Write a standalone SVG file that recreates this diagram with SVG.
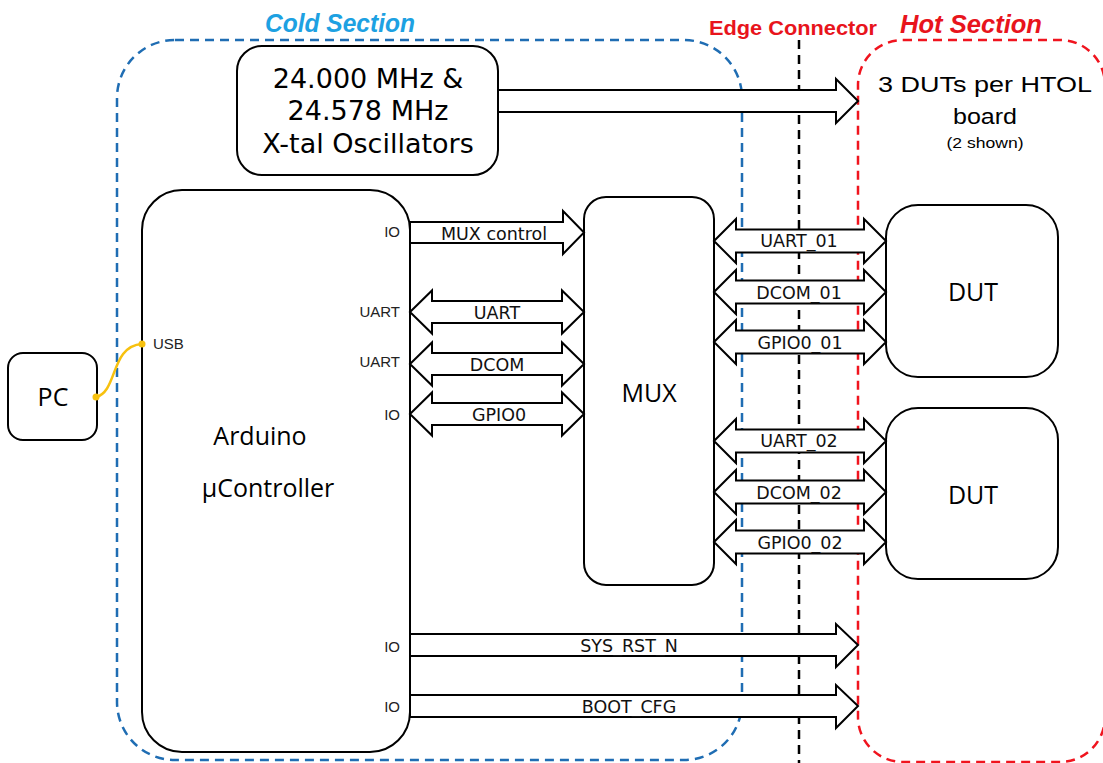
<svg xmlns="http://www.w3.org/2000/svg" width="1103" height="763" viewBox="0 0 1103 763">
<style>
.box{fill:#fff;stroke:#000;stroke-width:2}
.blk{fill:#fff;stroke:#000;stroke-width:2;stroke-linejoin:miter}
.sec{fill:none;stroke-width:2.5;stroke-dasharray:9 6}
.big{font-family:"Open Sans","DejaVu Sans",sans-serif;font-size:25px;fill:#000;text-anchor:middle}
.osc{font-family:"DejaVu Sans",sans-serif;font-size:27px;fill:#000;text-anchor:middle}
.lbl{font-family:"DejaVu Sans",sans-serif;font-size:17.5px;fill:#111;text-anchor:middle}
.pin{font-family:"Liberation Sans",Arial,sans-serif;font-size:15px;fill:#222;text-anchor:end}
.usb{font-family:"Liberation Sans",Arial,sans-serif;font-size:15px;fill:#222;text-anchor:start}
.hot{font-family:"Liberation Sans",Arial,sans-serif;fill:#000;text-anchor:middle}
.ttl{font-family:"Liberation Sans",Arial,sans-serif;font-weight:bold}
</style>
<rect width="1103" height="763" fill="#fff"/>
<g id="sections">
<rect class="sec" x="117" y="40" width="625" height="720" rx="58" stroke="#1f6db3"/>
<rect class="sec" x="858" y="40" width="247" height="722" rx="45" stroke="#f0141e"/>
<line class="sec" x1="799" y1="40" x2="799" y2="763" stroke="#000"/>
<text class="ttl" x="265" y="32" font-size="25" font-style="italic" fill="#1da1e2" textLength="150" lengthAdjust="spacingAndGlyphs">Cold Section</text>
<text class="ttl" x="709" y="35" font-size="20" fill="#e8141c" textLength="168" lengthAdjust="spacingAndGlyphs">Edge Connector</text>
<text class="ttl" x="900" y="33" font-size="25" font-style="italic" fill="#e8141c" textLength="142" lengthAdjust="spacingAndGlyphs">Hot Section</text>
<text class="hot" x="985" y="92" font-size="22" textLength="214" lengthAdjust="spacingAndGlyphs">3 DUTs per HTOL</text>
<text class="hot" x="985" y="124" font-size="22" textLength="64" lengthAdjust="spacingAndGlyphs">board</text>
<text class="hot" x="985" y="148" font-size="15" textLength="77" lengthAdjust="spacingAndGlyphs">(2 shown)</text>
</g>
<g id="osc">
<rect class="box" x="237" y="46" width="261" height="129" rx="25"/>
<text class="osc" x="368" y="88">24.000 MHz &amp;</text>
<text class="osc" x="368" y="120">24.578 MHz</text>
<text class="osc" x="368" y="153">X-tal Oscillators</text>
</g>
<g id="pc">
<rect class="box" x="8" y="353" width="89" height="87" rx="15"/>
<text class="big" x="53" y="406">PC</text>
</g>
<g id="arduino">
<rect class="box" x="142" y="190" width="268" height="562" rx="40"/>
<text class="big" x="260" y="445">Arduino</text>
<text class="big" x="268" y="497" font-size="27">µController</text>
<text class="usb" x="153" y="349">USB</text>
<text class="pin" x="400" y="237">IO</text>
<text class="pin" x="400" y="317">UART</text>
<text class="pin" x="400" y="367">UART</text>
<text class="pin" x="400" y="420">IO</text>
<text class="pin" x="400" y="652">IO</text>
<text class="pin" x="400" y="712">IO</text>
</g>
<g id="mux">
<rect class="box" x="584" y="197" width="130" height="388" rx="22"/>
<text class="big" x="649" y="402" font-size="26">MUX</text>
</g>
<g id="dut1">
<rect class="box" x="886" y="205" width="172" height="172" rx="32"/>
<text class="big" x="973" y="301" font-size="27">DUT</text>
</g>
<g id="dut2">
<rect class="box" x="886" y="408" width="172" height="171" rx="32"/>
<text class="big" x="973" y="504" font-size="27">DUT</text>
</g>
<g id="connectors">
<path class="blk" d="M498,90 H836 V79 L858,101 L836,123 V112 H498 Z"/>
<path class="blk" d="M410,222 H563 V211 L584,232.5 L563,254 V243 H410 Z"/>
<path class="blk" d="M410,312 L432,290.5 V301 H562 V290.5 L584,312 L562,333.5 V323 H432 V333.5 Z"/>
<path class="blk" d="M410,364 L432,342.5 V353 H562 V342.5 L584,364 L562,385.5 V375 H432 V385.5 Z"/>
<path class="blk" d="M410,414 L432,392.5 V403 H562 V392.5 L584,414 L562,435.5 V425 H432 V435.5 Z"/>
<path class="blk" d="M714,241 L736,219 V229.5 H864 V219 L886,241 L864,263 V252.5 H736 V263 Z"/>
<path class="blk" d="M714,292 L736,270 V280.5 H864 V270 L886,292 L864,314 V303.5 H736 V314 Z"/>
<path class="blk" d="M714,342 L736,320 V330.5 H864 V320 L886,342 L864,364 V353.5 H736 V364 Z"/>
<path class="blk" d="M714,441 L736,419 V429.5 H864 V419 L886,441 L864,463 V452.5 H736 V463 Z"/>
<path class="blk" d="M714,492 L736,470 V480.5 H864 V470 L886,492 L864,514 V503.5 H736 V514 Z"/>
<path class="blk" d="M714,542 L736,520 V530.5 H864 V520 L886,542 L864,564 V553.5 H736 V564 Z"/>
<path class="blk" d="M410,634 H836 V624 L858,645 L836,667 V656 H410 Z"/>
<path class="blk" d="M410,695 H836 V685 L858,706 L836,728 V717 H410 Z"/>
<path d="M96,397 C118,392 110,346 142,344" fill="none" stroke="#f7c10f" stroke-width="2.5"/>
<circle cx="96" cy="397" r="3.5" fill="#f7c10f"/>
<circle cx="142" cy="344" r="3.5" fill="#f7c10f"/>
<text class="lbl" x="494" y="240">MUX control</text>
<text class="lbl" x="497" y="319">UART</text>
<text class="lbl" x="497" y="371">DCOM</text>
<text class="lbl" x="499" y="421">GPIO0</text>
<text class="lbl" x="799" y="247">UART_01</text>
<text class="lbl" x="799" y="299">DCOM_01</text>
<text class="lbl" x="800" y="349">GPIO0_01</text>
<text class="lbl" x="799" y="447">UART_02</text>
<text class="lbl" x="799" y="499">DCOM_02</text>
<text class="lbl" x="800" y="549">GPIO0_02</text>
<text class="lbl" x="629" y="652">SYS_RST_N</text>
<text class="lbl" x="629" y="713">BOOT_CFG</text>
</g>
</svg>
